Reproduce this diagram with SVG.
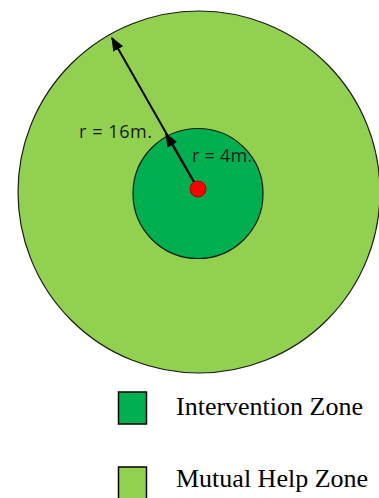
<svg xmlns="http://www.w3.org/2000/svg" width="379" height="498" viewBox="0 0 379 498">
<style>
.lbl{font-family:"Open Sans","Liberation Sans",Arial,sans-serif;font-size:18px;fill:#1a1a1a}
.leg{font-family:"Liberation Serif","Times New Roman",serif;font-size:26px;fill:#000}
.zone{stroke:#1a1a1a;stroke-width:1.2}
</style>
<defs>
<marker id="ah" viewBox="0 0 10 10" refX="9" refY="5" markerWidth="7" markerHeight="7" orient="auto" markerUnits="strokeWidth">
<path d="M0,1 L10,5 L0,9 z" fill="#000"/>
</marker>
</defs>
<rect width="379" height="498" fill="#fff"/>
<g id="mutual-help-zone"><circle class="zone" cx="199" cy="192" r="181" fill="#92d050"/></g>
<g id="intervention-zone"><circle class="zone" cx="198" cy="193.5" r="65" fill="#00b050"/></g>
<g id="connectors">
<line x1="198" y1="189" x2="112" y2="38" stroke="#000" stroke-width="2" marker-end="url(#ah)"/>
<line x1="198" y1="189" x2="166" y2="134" stroke="#000" stroke-width="2" marker-end="url(#ah)"/>
</g>
<g id="center"><circle cx="198" cy="189" r="8" fill="#ff0000" stroke="#a00" stroke-width="1"/></g>
<g id="label-r16"><text class="lbl" x="79" y="138" textLength="73">r = 16m.</text></g>
<g id="label-r4"><text class="lbl" x="192" y="162" textLength="60">r = 4m.</text></g>
<g id="legend-intervention">
<rect x="118.5" y="392" width="28" height="32" fill="#00b050" stroke="#000" stroke-width="1.5"/>
<text class="leg" x="176" y="415">Intervention Zone</text>
</g>
<g id="legend-mutual">
<rect x="118.5" y="467" width="28" height="32" fill="#92d050" stroke="#000" stroke-width="1.5"/>
<text class="leg" x="176" y="487">Mutual Help Zone</text>
</g>
</svg>
